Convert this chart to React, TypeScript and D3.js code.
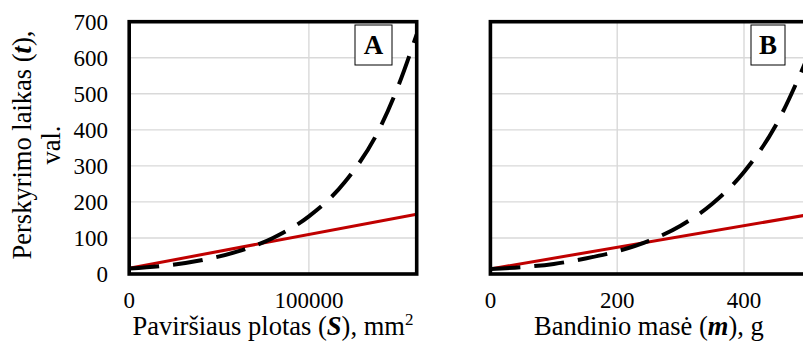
import React from "react";
import * as d3 from "d3";

// Panel A: separation time vs surface area S (mm²)
const areaS = [0, 20000, 40000, 60000, 80000, 100000, 120000, 140000, 150000, 160000];
const timeByAreaFit = [15, 23, 38, 62, 100, 160, 255, 410, 525, 665];
const areaLinearS = [0, 160000];
const timeByAreaLinear = [16, 166];

// Panel B: separation time vs sample mass m (g)
const massM = [0, 50, 100, 150, 200, 250, 300, 350, 400, 450, 500];
const timeByMassFit = [14, 19, 28, 43, 63, 92, 134, 195, 283, 412, 600];
const massLinearM = [0, 500];
const timeByMassLinear = [14, 164];

const yTicks = [0, 100, 200, 300, 400, 500, 600, 700];
const xTicksA = [0, 100000];
const xTicksB = [0, 200, 400];

const FONT = '"Liberation Serif", "Times New Roman", serif';
const W = 803;
const H = 341;
const TOP = 21.7;
const BOTTOM = 274;
const TICK_SIZE = 23;
const TITLE_SIZE = 26.5;

type PanelProps = {
  id: string;
  left: number;
  right: number;
  xMax: number;
  xTicks: number[];
  fitX: number[];
  fitY: number[];
  linX: number[];
  linY: number[];
  letter: string;
  boxX: number;
  boxW: number;
  title: React.ReactNode;
  showY: boolean;
};

const txt = (size: number, extra: React.CSSProperties = {}): React.CSSProperties => ({
  fontFamily: FONT,
  fontSize: size,
  ...extra,
});

const boldItalic: React.CSSProperties = { fontWeight: "bold", fontStyle: "italic" };

function Panel(p: PanelProps) {
  const x = d3.scaleLinear().domain([0, p.xMax]).range([p.left, p.right]);
  const y = d3.scaleLinear().domain([0, 700]).range([BOTTOM, TOP]);
  const line = d3
    .line<[number, number]>()
    .x((d) => x(d[0]))
    .y((d) => y(d[1]));
  const smooth = d3
    .line<[number, number]>()
    .x((d) => x(d[0]))
    .y((d) => y(d[1]))
    .curve(d3.curveMonotoneX);
  const fit = p.fitX.map((v, i) => [v, p.fitY[i]] as [number, number]);
  const lin = p.linX.map((v, i) => [v, p.linY[i]] as [number, number]);
  const clipId = `clip-${p.id}`;
  const cx = (p.left + p.right) / 2;

  return (
    <g>
      <defs>
        <clipPath id={clipId}>
          <rect x={p.left} y={TOP} width={p.right - p.left} height={BOTTOM - TOP} />
        </clipPath>
      </defs>
      {/* gridlines */}
      {yTicks.slice(1, -1).map((t) => (
        <line key={`h${t}`} x1={p.left} x2={p.right} y1={y(t)} y2={y(t)} stroke="#d9d9d9" strokeWidth={1.4} />
      ))}
      {p.xTicks.slice(1).map((t) => (
        <line key={`v${t}`} x1={x(t)} x2={x(t)} y1={TOP} y2={BOTTOM} stroke="#d9d9d9" strokeWidth={1.4} />
      ))}
      <g clipPath={`url(#${clipId})`}>
        <path d={line(lin) ?? ""} fill="none" stroke="#c00000" strokeWidth={3} />
        <path
          d={smooth(fit) ?? ""}
          fill="none"
          stroke="#000"
          strokeWidth={4}
          strokeDasharray="30 14"
        />
      </g>
      {/* plot frame */}
      <rect x={p.left} y={TOP} width={p.right - p.left} height={BOTTOM - TOP} fill="none" stroke="#000" strokeWidth={3.6} />
      {/* panel letter */}
      <rect x={p.boxX} y={25} width={p.boxW} height={40} fill="#fff" stroke="#000" strokeWidth={1} />
      <text x={p.boxX + p.boxW / 2} y={54} textAnchor="middle" style={txt(27, { fontWeight: "bold" })}>
        {p.letter}
      </text>
      {/* x tick labels */}
      {p.xTicks.map((t) => (
        <text key={`xl${t}`} x={x(t)} y={308} textAnchor="middle" style={txt(TICK_SIZE)}>
          {t}
        </text>
      ))}
      {/* y tick labels */}
      {p.showY &&
        yTicks.map((t) => (
          <text key={`yl${t}`} x={108} y={y(t) + 7.8} textAnchor="end" style={txt(TICK_SIZE)}>
            {t}
          </text>
        ))}
      <text x={cx} y={335} textAnchor="middle" style={txt(TITLE_SIZE)}>
        {p.title}
      </text>
    </g>
  );
}

export default function App() {
  return (
    <svg width={W} height={H} style={{ position: "absolute", left: 0, top: 0, background: "#fff" }}>
      <rect width={W} height={H} fill="#fff" />
      <Panel
        id="a"
        left={129.2}
        right={416.7}
        xMax={160000}
        xTicks={xTicksA}
        fitX={areaS}
        fitY={timeByAreaFit}
        linX={areaLinearS}
        linY={timeByAreaLinear}
        letter="A"
        boxX={355}
        boxW={37}
        showY={true}
        title={
          <>
            Paviršiaus plotas (<tspan style={boldItalic}>S</tspan>), mm
            <tspan dy={-10} style={{ fontSize: 17 }}>2</tspan>
          </>
        }
      />
      <Panel
        id="b"
        left={490.4}
        right={807.4}
        xMax={500}
        xTicks={xTicksB}
        fitX={massM}
        fitY={timeByMassFit}
        linX={massLinearM}
        linY={timeByMassLinear}
        letter="B"
        boxX={751}
        boxW={34}
        showY={false}
        title={
          <>
            Bandinio masė (<tspan style={boldItalic}>m</tspan>), g
          </>
        }
      />
      {/* y axis title */}
      <g transform="translate(31,145) rotate(-90)">
        <text x={0} y={0} textAnchor="middle" style={txt(TITLE_SIZE)}>
          Perskyrimo laikas (<tspan style={boldItalic}>t</tspan>),
        </text>
        <text x={0} y={29} textAnchor="middle" style={txt(TITLE_SIZE)}>
          val.
        </text>
      </g>
    </svg>
  );
}
